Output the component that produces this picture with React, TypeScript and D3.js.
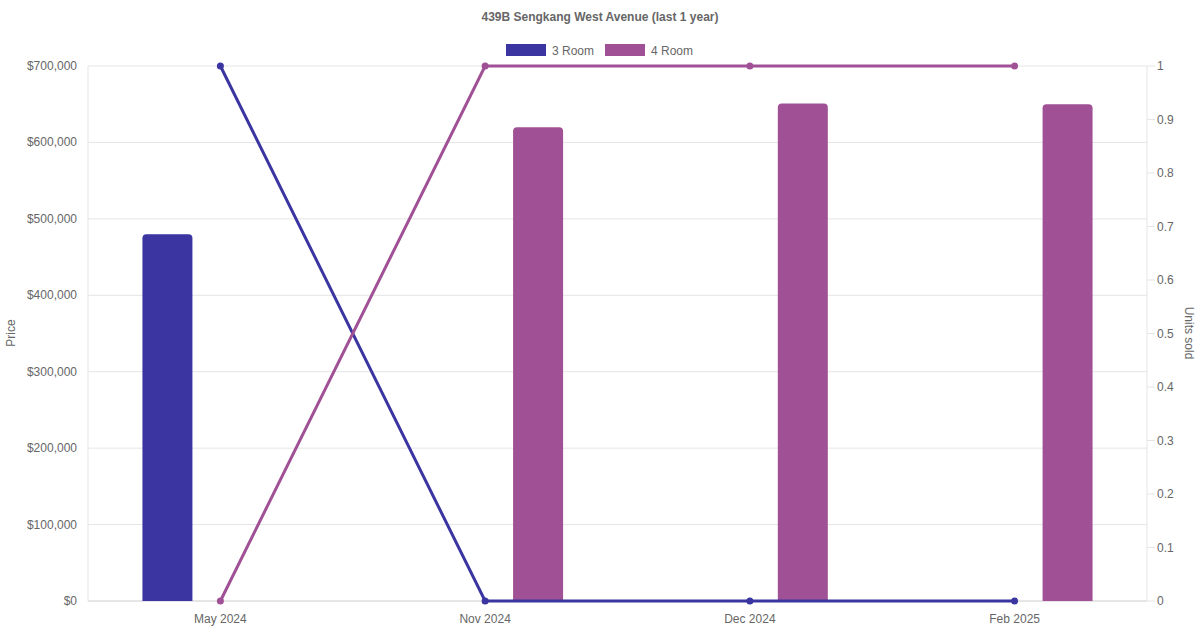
import React from 'react';
import * as d3 from 'd3';

const months = ['May 2024', 'Nov 2024', 'Dec 2024', 'Feb 2025'];
const seriesNames = ['3 Room', '4 Room'];
const seriesColors = ['#3a35a0', '#a05195'];
// average price per month (null = no sale)
const priceThree = [480000, null, null, null];
const priceFour = [null, 620000, 651000, 650000];
// units sold per month
const unitsThree = [1, 0, 0, 0];
const unitsFour = [0, 1, 1, 1];
const priceTicks = [0, 100000, 200000, 300000, 400000, 500000, 600000, 700000];
const unitTicks = [0, 0.1, 0.2, 0.3, 0.4, 0.5, 0.6, 0.7, 0.8, 0.9, 1];

const W = 1200;
const H = 630;
const left = 88;
const right = 1147;
const top = 66;
const bottom = 601;
const font = '"Liberation Sans", Arial, Helvetica, sans-serif';
const txt = '#666';

function barPath(x: number, y: number, w: number, h: number, r: number) {
  const rr = Math.min(r, h, w / 2);
  return `M${x},${y + h}V${y + rr}Q${x},${y} ${x + rr},${y}H${x + w - rr}Q${x + w},${y} ${x + w},${y + rr}V${y + h}Z`;
}

export default function App() {
  const x = d3.scaleBand().domain(months).range([left, right]);
  const yPrice = d3.scaleLinear().domain([0, 700000]).range([bottom, top]);
  const yUnits = d3.scaleLinear().domain([0, 1]).range([bottom, top]);
  const slot = (x.bandwidth() * 0.8) / 2;
  const barW = 50;
  const fmt = (v: number) => '$' + d3.format(',')(v);

  const prices = [priceThree, priceFour];
  const units = [unitsThree, unitsFour];

  const line = d3
    .line<number>()
    .x((_, i) => x(months[i])! + x.bandwidth() / 2)
    .y((d) => yUnits(d));

  return (
    <svg width={W} height={H} style={{ position: 'absolute', left: 0, top: 0 }} fontFamily={font}>
      <rect width={W} height={H} fill="#fff" />
      <text x={600} y={21} textAnchor="middle" fontSize={12} fontWeight="bold" fill={txt}>
        439B Sengkang West Avenue (last 1 year)
      </text>

      {/* legend */}
      {seriesNames.map((n, i) => {
        const lx = [506, 605][i];
        return (
          <g key={n}>
            <rect x={lx} y={44} width={40} height={12} fill={seriesColors[i]} />
            <text x={lx + 46} y={54.5} fontSize={12} fill={txt}>
              {n}
            </text>
          </g>
        );
      })}

      {/* grid */}
      {priceTicks.map((t) => (
        <g key={t}>
          <line x1={left} x2={right} y1={yPrice(t)} y2={yPrice(t)} stroke={t === 0 ? '#ccc' : '#e5e5e5'} />
          <text x={77} y={yPrice(t) + 4} textAnchor="end" fontSize={12} fill={txt}>
            {fmt(t)}
          </text>
        </g>
      ))}
      <line x1={left} x2={left} y1={top} y2={bottom} stroke="#e5e5e5" />
      <line x1={right} x2={right} y1={top} y2={bottom} stroke="#e5e5e5" />
      {unitTicks.map((t) => (
        <g key={t}>
          <line x1={right} x2={right + 8} y1={yUnits(t)} y2={yUnits(t)} stroke="#e5e5e5" />
          <text x={1157} y={yUnits(t) + 4} fontSize={12} fill={txt}>
            {d3.format('~g')(t)}
          </text>
        </g>
      ))}
      {months.map((m) => (
        <text key={m} x={x(m)! + x.bandwidth() / 2} y={623} textAnchor="middle" fontSize={12} fill={txt}>
          {m}
        </text>
      ))}

      <text transform={`translate(15,333) rotate(-90)`} textAnchor="middle" fontSize={12} fill={txt}>
        Price
      </text>
      <text transform={`translate(1185,333) rotate(90)`} textAnchor="middle" fontSize={12} fill={txt}>
        Units sold
      </text>

      {/* bars */}
      {prices.map((arr, si) =>
        arr.map((v, i) => {
          if (v == null) return null;
          const cx = x(months[i])! + x.bandwidth() / 2 + (si === 0 ? -slot / 2 : slot / 2);
          const y0 = yPrice(v);
          return (
            <path
              key={`${si}-${i}`}
              d={barPath(cx - barW / 2, y0, barW, bottom - y0, 4)}
              fill={seriesColors[si]}
            />
          );
        })
      )}

      {/* lines */}
      {units.map((arr, si) => (
        <g key={si}>
          <path d={line(arr) || ''} fill="none" stroke={seriesColors[si]} strokeWidth={3} />
          {arr.map((v, i) => (
            <circle
              key={i}
              cx={x(months[i])! + x.bandwidth() / 2}
              cy={yUnits(v)}
              r={3.5}
              fill={seriesColors[si]}
            />
          ))}
        </g>
      ))}
    </svg>
  );
}
